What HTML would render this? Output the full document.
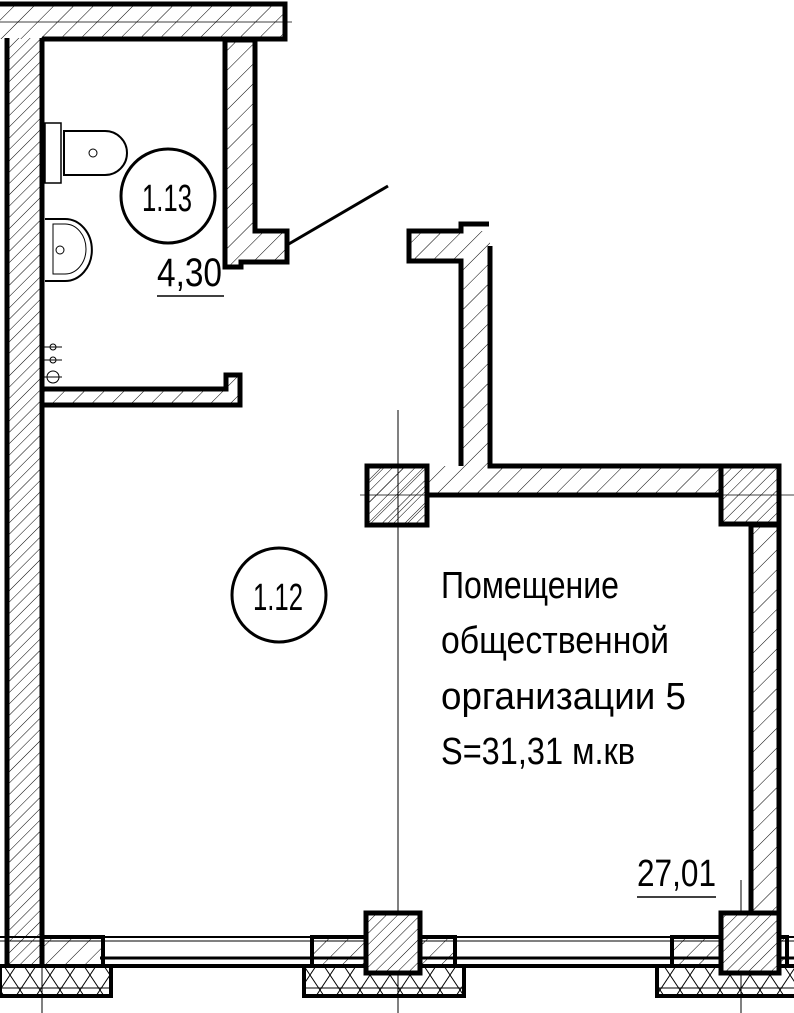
<!DOCTYPE html>
<html><head><meta charset="utf-8"><style>html,body{margin:0;padding:0;background:#fff}svg{display:block}</style></head>
<body>
<svg width="794" height="1013" viewBox="0 0 794 1013" xmlns="http://www.w3.org/2000/svg">
<defs>
<pattern id="h" patternUnits="userSpaceOnUse" width="14" height="14" patternTransform="rotate(45)">
<line x1="0" y1="0" x2="0" y2="14" stroke="#000" stroke-width="1"/></pattern>
<pattern id="hd" patternUnits="userSpaceOnUse" width="8" height="8" patternTransform="rotate(45)">
<line x1="0" y1="0" x2="0" y2="8" stroke="#000" stroke-width="1"/></pattern>
<pattern id="x" patternUnits="userSpaceOnUse" width="20" height="30">
<path d="M0 0L20 30M20 0L0 30" stroke="#000" stroke-width="1"/></pattern>
</defs>
<g stroke="#000" fill="none">
<!-- guide lines -->
<line x1="398" y1="410" x2="398" y2="1013" stroke-width="1"/>
<line x1="741" y1="880" x2="741" y2="1013" stroke-width="1"/>
<line x1="42" y1="960" x2="42" y2="1013" stroke-width="1"/>
<line x1="0" y1="22" x2="292" y2="22" stroke-width="0.8"/>
<line x1="360" y1="495" x2="794" y2="495" stroke-width="0.8"/>
<!-- left wall -->
<rect x="7" y="38" width="35" height="928" fill="url(#hd)" stroke-width="0"/>
<line x1="7" y1="38" x2="7" y2="966" stroke-width="5"/>
<line x1="42" y1="38" x2="42" y2="966" stroke-width="5"/>
<!-- top wall -->
<rect x="0" y="5" width="285" height="34" fill="url(#h)" stroke="none"/>
<path d="M0 4H285V39H42" stroke-width="5"/>
<!-- bathroom partition -->
<path d="M225 40H255V231H287V262H241V267H225Z" fill="url(#h)" stroke-width="5"/>
<line x1="287" y1="245" x2="388" y2="186" stroke-width="3"/>
<!-- horizontal partition -->
<path d="M42 389H226V375H240V405H42" fill="url(#h)" stroke-width="5"/>
<!-- central wall -->
<polygon points="409,231 490,231 490,466 722,466 722,495 427,495 427,525 367,525 367,466 461,466 461,261 409,261" fill="url(#h)" stroke="none"/>
<polyline points="461,466 461,261 409,261 409,231 461,231 461,224 489,224" stroke-width="5"/>
<polyline points="490,246 490,466 722,466" stroke-width="5"/>
<line x1="427" y1="495" x2="722" y2="495" stroke-width="5"/>
<rect x="367" y="466" width="60" height="59" fill="url(#hd)" stroke-width="5"/>
<!-- right column and wall -->
<rect x="751" y="525" width="28" height="390" fill="url(#h)" stroke-width="5"/>
<rect x="721" y="466" width="58" height="58" fill="url(#hd)" stroke-width="5"/>
<!-- window band -->
<line x1="0" y1="937" x2="794" y2="937" stroke-width="2"/>
<line x1="0" y1="941" x2="794" y2="941" stroke-width="1"/>
<line x1="100" y1="958" x2="794" y2="958" stroke-width="3"/>
<line x1="0" y1="966" x2="794" y2="966" stroke-width="4"/>
<rect x="42" y="937" width="61" height="29" fill="url(#h)" stroke-width="4"/>
<rect x="312" y="937" width="143" height="29" fill="url(#h)" stroke-width="4"/>
<rect x="672" y="937" width="115" height="29" fill="url(#h)" stroke-width="4"/>
<!-- insulation -->
<rect x="0" y="966" width="111" height="30" fill="url(#x)" stroke-width="4"/>
<rect x="304" y="966" width="160" height="30" fill="url(#x)" stroke-width="4"/>
<rect x="657" y="966" width="140" height="30" fill="url(#x)" stroke-width="4"/>
<line x1="0" y1="988" x2="111" y2="988" stroke-width="1"/>
<line x1="304" y1="988" x2="464" y2="988" stroke-width="1"/>
<line x1="657" y1="988" x2="794" y2="988" stroke-width="1"/>
<!-- columns at bottom -->
<rect x="366" y="913" width="54" height="60" fill="#fff" stroke-width="5"/>
<rect x="366" y="913" width="54" height="60" fill="url(#hd)" stroke-width="5"/>
<rect x="721" y="913" width="58" height="60" fill="#fff" stroke-width="5"/>
<rect x="721" y="913" width="58" height="60" fill="url(#hd)" stroke-width="5"/>
<!-- fixtures -->
<rect x="45" y="123" width="16" height="60" stroke-width="1.5"/>
<path d="M64 131H105A22 22 0 0 1 105 175H64Z" stroke-width="2"/>
<circle cx="93" cy="153" r="4" stroke-width="1"/>
<path d="M45 219H65A26 30 0 0 1 65 281H45" stroke-width="2"/>
<path d="M53 224H65A21 25 0 0 1 65 274H53Z" stroke-width="1"/>
<circle cx="60" cy="250" r="4" stroke-width="1"/>
<circle cx="53" cy="347" r="3" stroke-width="1"/>
<circle cx="53" cy="360" r="3" stroke-width="1"/>
<circle cx="53" cy="377" r="6" stroke-width="1"/>
<line x1="44" y1="347" x2="62" y2="347" stroke-width="1"/>
<line x1="44" y1="360" x2="62" y2="360" stroke-width="1"/>
<line x1="44" y1="377" x2="62" y2="377" stroke-width="1"/>
<!-- circles -->
<circle cx="168" cy="196" r="47" stroke-width="3"/>
<circle cx="279" cy="595" r="47" stroke-width="3"/>
<line x1="157" y1="296" x2="224" y2="296" stroke-width="1.5"/>
<line x1="637" y1="897" x2="716" y2="897" stroke-width="1.5"/>
</g>
<g font-family="Liberation Sans, sans-serif" fill="#000" font-size="38">
<text x="142" y="211" textLength="50" lengthAdjust="spacingAndGlyphs">1.13</text>
<text x="253" y="610" textLength="50" lengthAdjust="spacingAndGlyphs">1.12</text>
<text x="157" y="286" font-size="40" textLength="65" lengthAdjust="spacingAndGlyphs">4,30</text>
<text x="637" y="886" textLength="79" lengthAdjust="spacingAndGlyphs">27,01</text>
<text x="441" y="598" textLength="178" lengthAdjust="spacingAndGlyphs">Помещение</text>
<text x="441" y="653" textLength="228" lengthAdjust="spacingAndGlyphs">общественной</text>
<text x="441" y="709" textLength="245" lengthAdjust="spacingAndGlyphs">организации 5</text>
<text x="441" y="764" textLength="194" lengthAdjust="spacingAndGlyphs">S=31,31 м.кв</text>
</g>
</svg>
</body></html>
